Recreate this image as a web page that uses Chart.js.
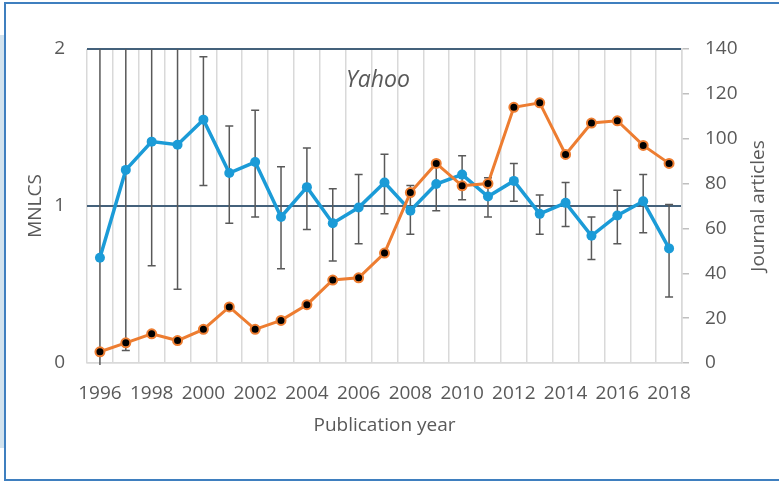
<!DOCTYPE html>
<html>
<head>
<meta charset="utf-8">
<script src="https://cdn.jsdelivr.net/npm/chart.js@4.4.1/dist/chart.umd.min.js"></script>
<style>
  body { margin: 0; width: 779px; height: 481px; overflow: hidden; background: #fff; position: relative; }
  #panel { position: absolute; left: 0; top: 35px; width: 5px; height: 413px; background: #d3e3ee; }
  #frame { position: absolute; left: 4px; top: 2px; width: 820px; height: 475px; border: 2.5px solid #3f7fbf; border-right: none; }
  #yahooChart { position: absolute; left: 0; top: 0; }
</style>
</head>
<body>
<div id="panel"></div>
<div id="frame"></div>
<canvas id="yahooChart" width="779" height="481"></canvas>
<script>
const years = ['1996', '1997', '1998', '1999', '2000', '2001', '2002', '2003', '2004', '2005', '2006', '2007',
  '2008', '2009', '2010', '2011', '2012', '2013', '2014', '2015', '2016', '2017', '2018'];
const mnlcs = [0.67, 1.23, 1.41, 1.39, 1.55, 1.21, 1.28, 0.93, 1.12, 0.89, 0.99, 1.15,
  0.97, 1.14, 1.20, 1.06, 1.16, 0.95, 1.02, 0.81, 0.94, 1.03, 0.73];
const mnlcsUpper = [2.5, 2.5, 2.5, 2.5, 1.95, 1.51, 1.61, 1.25, 1.37, 1.11, 1.20, 1.33,
  1.13, 1.28, 1.32, 1.18, 1.27, 1.07, 1.15, 0.93, 1.10, 1.20, 1.01];
const mnlcsLower = [-0.1, 0.08, 0.62, 0.47, 1.13, 0.89, 0.93, 0.60, 0.85, 0.65, 0.76, 0.95,
  0.82, 0.97, 1.04, 0.93, 1.03, 0.82, 0.87, 0.66, 0.76, 0.83, 0.42];
const articles = [5, 9, 13, 10, 15, 25, 15, 19, 26, 37, 38, 49,
  76, 89, 79, 80, 114, 116, 93, 107, 108, 97, 89];

const textGrey = '#595959';
Chart.defaults.font.family = '"Open Sans", sans-serif';
Chart.defaults.color = textGrey;

// error bars behind the lines
const errorBars = {
  id: 'errorBars',
  beforeDatasetsDraw(chart) {
    const { ctx, chartArea, scales } = chart;
    ctx.save();
    ctx.beginPath();
    ctx.rect(chartArea.left, chartArea.top, chartArea.right - chartArea.left, chartArea.bottom - chartArea.top + 2);
    ctx.clip();
    ctx.strokeStyle = textGrey;
    ctx.lineWidth = 1.5;
    years.forEach((yr, i) => {
      const x = scales.x.getPixelForValue(i);
      const yHi = scales.y.getPixelForValue(mnlcsUpper[i]);
      const yLo = scales.y.getPixelForValue(mnlcsLower[i]);
      ctx.beginPath();
      ctx.moveTo(x, yHi);
      ctx.lineTo(x, yLo);
      ctx.moveTo(x - 4, yHi);
      ctx.lineTo(x + 4, yHi);
      ctx.moveTo(x - 4, yLo);
      ctx.lineTo(x + 4, yLo);
      ctx.stroke();
    });
    ctx.restore();
  },
};

// "Yahoo" inside the plot, and the right axis title read bottom-to-top like Excel
const extraText = {
  id: 'extraText',
  afterDatasetsDraw(chart) {
    const { ctx, chartArea } = chart;
    ctx.save();
    ctx.font = 'italic 23px "Open Sans"';
    ctx.fillStyle = textGrey;
    ctx.textAlign = 'center';
    ctx.textBaseline = 'middle';
    ctx.fillText('Yahoo', chartArea.left + (chartArea.right - chartArea.left) * 0.489, chartArea.top + 31);
    ctx.font = '19px "Open Sans"';
    ctx.translate(chart.width - 20, (chartArea.top + chartArea.bottom) / 2);
    ctx.rotate(-Math.PI / 2);
    ctx.fillText('Journal articles', 0, 0);
    ctx.restore();
  },
};

const ctx = document.getElementById('yahooChart').getContext('2d');
const yahooChart = new Chart(ctx, {
  type: 'line',
  data: {
    labels: years,
    datasets: [
      {
        label: 'Journal articles',
        data: articles,
        yAxisID: 'y1',
        borderColor: '#ed7d31',
        borderWidth: 3,
        pointRadius: 4.5,
        pointBackgroundColor: '#000',
        pointBorderColor: '#ed7d31',
        pointBorderWidth: 2,
        tension: 0,
        order: 1,
      },
      {
        label: 'MNLCS',
        data: mnlcs,
        yAxisID: 'y',
        borderColor: '#1b9bd7',
        backgroundColor: '#1b9bd7',
        borderWidth: 3.5,
        pointRadius: 5,
        pointBorderWidth: 0,
        pointBackgroundColor: '#1b9bd7',
        tension: 0,
        order: 2,
      },
    ],
  },
  options: {
    responsive: false,
    animation: false,
    layout: { padding: { top: 49, left: 0, right: 0, bottom: 0 } },
    scales: {
      x: {
        offset: true,
        afterFit: (s) => { s.height = 118; },
        grid: { offset: true, color: '#d9d9d9', lineWidth: 1.5, drawTicks: false },
        border: { color: '#d9d9d9', width: 1.5 },
        ticks: {
          autoSkip: false,
          maxRotation: 0,
          padding: 19,
          font: { size: 19 },
          callback: function (value, index) {
            return index % 2 === 0 ? this.getLabelForValue(value) : '';
          },
        },
        title: { display: true, text: 'Publication year', font: { size: 19 }, padding: { top: 0, bottom: 44 } },
      },
      y: {
        position: 'left',
        min: 0,
        max: 2,
        afterFit: (s) => { s.width = 87; },
        grid: {
          drawTicks: false,
          color: (c) => (c.tick && c.tick.value === 0 ? '#d9d9d9' : '#44617b'),
          lineWidth: (c) => (c.tick && c.tick.value === 0 ? 1.5 : 2),
        },
        border: { display: false },
        ticks: { stepSize: 1, padding: 22, font: { size: 19 } },
        title: { display: true, text: 'MNLCS', font: { size: 19 }, padding: { top: 24, bottom: 0 } },
      },
      y1: {
        position: 'right',
        min: 0,
        max: 140,
        afterFit: (s) => { s.width = 97; },
        grid: { drawOnChartArea: false, drawTicks: true, tickLength: 7, color: '#bfbfbf', lineWidth: 1.5 },
        border: { color: '#d9d9d9', width: 1.5 },
        ticks: { stepSize: 20, padding: 16, font: { size: 19 } },
      },
    },
    plugins: {
      legend: { display: false },
      tooltip: { enabled: false },
    },
  },
  plugins: [errorBars, extraText],
});
</script>
</body>
</html>
